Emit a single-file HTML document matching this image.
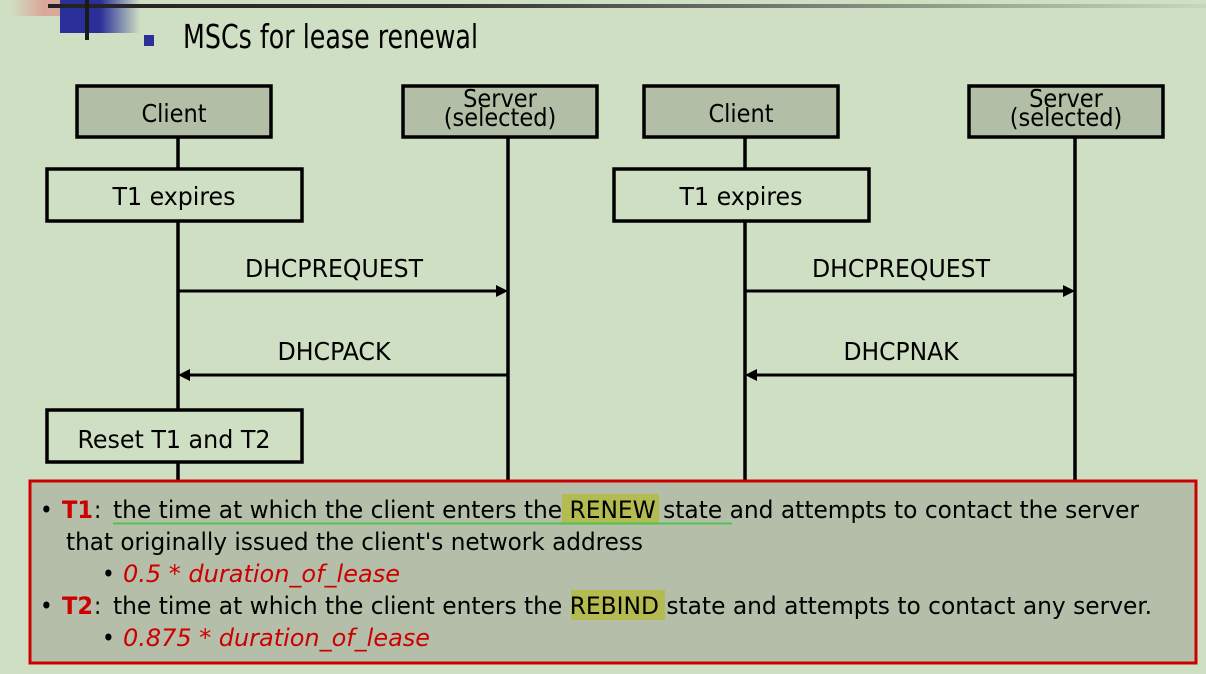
<!DOCTYPE html>
<html><head><meta charset="utf-8"><style>
html,body{margin:0;padding:0;background:#cfdfc3;}
svg{display:block;}
text{font-family:"DejaVu Sans Condensed","Liberation Sans",sans-serif;fill:#000;}
</style></head><body>
<svg width="1206" height="674" viewBox="0 0 1206 674" xmlns="http://www.w3.org/2000/svg">
<defs>
<linearGradient id="lg" x1="0" x2="1"><stop offset="0" stop-color="#222"/><stop offset="0.35" stop-color="#333"/><stop offset="1" stop-color="#c8d6bc"/></linearGradient>
<linearGradient id="bg" x1="0" x2="1"><stop offset="0" stop-color="#2a2f9a"/><stop offset="0.5" stop-color="#2a2f9a"/><stop offset="1" stop-color="#cfdfc3"/></linearGradient>
<linearGradient id="pg" x1="0" x2="1"><stop offset="0" stop-color="#cfdfc3"/><stop offset="0.5" stop-color="#d9a898"/><stop offset="1" stop-color="#d9a898"/></linearGradient>
</defs>
<rect width="1206" height="674" fill="#cfdfc3"/>
<rect x="10" y="0" width="67" height="16" fill="url(#pg)"/>
<rect x="60" y="0" width="80" height="33" fill="url(#bg)"/>
<rect x="48" y="4" width="1158" height="4" fill="url(#lg)"/>
<rect x="85" y="0" width="4" height="40" fill="#1a1a1a"/>
<rect x="144" y="35" width="10" height="11" fill="#2a2f9a"/>
<text x="183" y="48" font-size="33" textLength="295" lengthAdjust="spacingAndGlyphs">MSCs for lease renewal</text>

<g stroke="#000" stroke-width="3.5" fill="none">
<line x1="178" y1="138" x2="178" y2="480"/>
<line x1="508" y1="138" x2="508" y2="480"/>
<line x1="745" y1="138" x2="745" y2="480"/>
<line x1="1075" y1="138" x2="1075" y2="480"/>
</g>
<g stroke="#000" stroke-width="3.5" fill="#b2bfa6">
<rect x="77" y="86" width="194" height="51"/>
<rect x="403" y="86" width="194" height="51"/>
<rect x="644" y="86" width="194" height="51"/>
<rect x="969" y="86" width="194" height="51"/>
</g>
<g stroke="#000" stroke-width="3.5" fill="#cfdfc3">
<rect x="47" y="169" width="255" height="52"/>
<rect x="614" y="169" width="255" height="52"/>
<rect x="47" y="410" width="255" height="52"/>
</g>
<g font-size="25" text-anchor="middle">
<text x="174" y="122">Client</text>
<text x="741" y="122">Client</text>
<text x="500" y="107">Server</text>
<text x="500" y="126">(selected)</text>
<text x="1066" y="107">Server</text>
<text x="1066" y="126">(selected)</text>
<text x="174" y="205" textLength="123" lengthAdjust="spacingAndGlyphs">T1 expires</text>
<text x="741" y="205" textLength="123" lengthAdjust="spacingAndGlyphs">T1 expires</text>
<text x="174" y="448" textLength="193" lengthAdjust="spacingAndGlyphs">Reset T1 and T2</text>
<text x="334" y="277" textLength="178" lengthAdjust="spacingAndGlyphs">DHCPREQUEST</text>
<text x="901" y="277" textLength="178" lengthAdjust="spacingAndGlyphs">DHCPREQUEST</text>
<text x="334" y="360" textLength="113" lengthAdjust="spacingAndGlyphs">DHCPACK</text>
<text x="901" y="360" textLength="115" lengthAdjust="spacingAndGlyphs">DHCPNAK</text>
</g>
<g stroke="#000" stroke-width="3">
<line x1="178" y1="291" x2="498" y2="291"/>
<line x1="188" y1="375" x2="508" y2="375"/>
<line x1="745" y1="291" x2="1065" y2="291"/>
<line x1="755" y1="375" x2="1075" y2="375"/>
</g>
<g fill="#000">
<polygon points="508,291 496,285 496,297"/>
<polygon points="178,375 190,369 190,381"/>
<polygon points="1075,291 1063,285 1063,297"/>
<polygon points="745,375 757,369 757,381"/>
</g>

<rect x="30" y="481" width="1166" height="182" fill="#b4bea8" stroke="#cc0000" stroke-width="3"/>
<rect x="562" y="494" width="97" height="29" fill="#b4bb50"/>
<rect x="571" y="590" width="94" height="30" fill="#b4bb50"/>
<line x1="113" y1="523.5" x2="732" y2="523.5" stroke="#4fc24f" stroke-width="2"/>
<g font-size="24">
<text x="40" y="518">•</text>
<text x="62" y="518" font-weight="bold" fill="#cc0000" style="fill:#cc0000" textLength="31" lengthAdjust="spacingAndGlyphs">T1</text>
<text x="94" y="518">:</text>
<text x="113" y="518" textLength="1026" lengthAdjust="spacingAndGlyphs">the time at which the client enters the RENEW state and attempts to contact the server</text>
<text x="66" y="550" textLength="577" lengthAdjust="spacingAndGlyphs">that originally issued the client's network address</text>
<text x="102" y="582">•</text>
<text x="123" y="582" font-style="italic" style="fill:#cc0000" textLength="277" lengthAdjust="spacingAndGlyphs">0.5 * duration_of_lease</text>
<text x="40" y="614">•</text>
<text x="62" y="614" font-weight="bold" style="fill:#cc0000" textLength="31" lengthAdjust="spacingAndGlyphs">T2</text>
<text x="94" y="614">:</text>
<text x="113" y="614" textLength="1039" lengthAdjust="spacingAndGlyphs">the time at which the client enters the REBIND state and attempts to contact any server.</text>
<text x="102" y="646">•</text>
<text x="123" y="646" font-style="italic" style="fill:#cc0000" textLength="307" lengthAdjust="spacingAndGlyphs">0.875 * duration_of_lease</text>
</g>
</svg>
</body></html>
